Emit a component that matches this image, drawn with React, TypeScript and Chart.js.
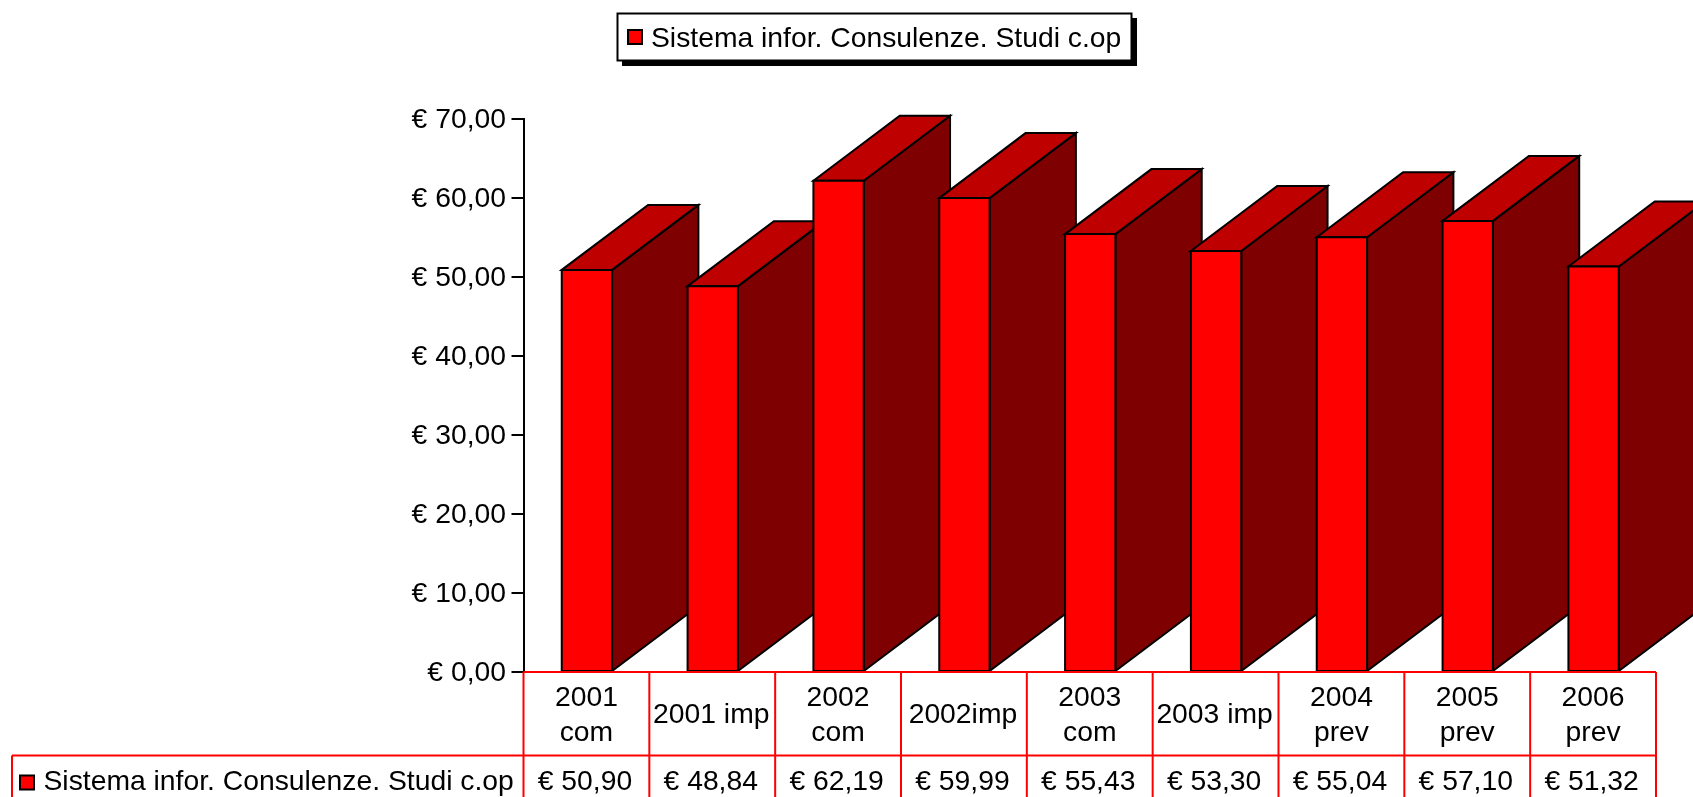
import React, { useEffect, useRef } from "react";
import { Chart, BarController, BarElement, CategoryScale, LinearScale } from "chart.js";

const seriesName = "Sistema infor. Consulenze. Studi c.op";
const categories = [
  ["2001", "com"],
  ["2001 imp"],
  ["2002", "com"],
  ["2002imp"],
  ["2003", "com"],
  ["2003 imp"],
  ["2004", "prev"],
  ["2005", "prev"],
  ["2006", "prev"],
];
const values = [50.9, 48.84, 62.19, 59.99, 55.43, 53.3, 55.04, 57.1, 51.32];
const yMin = 0;
const yMax = 70;
const yStep = 10;

const FONT_SIZE = 28.3;
const FONT = FONT_SIZE + 'px "Liberation Sans"';
const DEPTH_X = 86.3;
const DEPTH_Y = 65;
const FRONT = "#ff0000";
const TOP = "#bf0000";
const SIDE = "#7f0000";
const RED_LINE = "#ff0000";

const euro = (v: number) => "€ " + v.toFixed(2).replace(".", ",");

class Box3DElement extends BarElement {
  static id = "box3d";
  draw(ctx: CanvasRenderingContext2D) {
    const { x, y, base, width } = this as any;
    const l = x - width / 2 + 0.5;
    const r = x + width / 2 + 0.5;
    ctx.save();
    ctx.lineWidth = 2;
    ctx.lineJoin = "miter";
    ctx.strokeStyle = "#000";
    ctx.fillStyle = SIDE;
    ctx.beginPath();
    ctx.moveTo(r, y);
    ctx.lineTo(r + DEPTH_X, y - DEPTH_Y);
    ctx.lineTo(r + DEPTH_X, base - DEPTH_Y);
    ctx.lineTo(r, base);
    ctx.closePath();
    ctx.fill();
    ctx.stroke();
    ctx.fillStyle = TOP;
    ctx.beginPath();
    ctx.moveTo(l, y);
    ctx.lineTo(l + DEPTH_X, y - DEPTH_Y);
    ctx.lineTo(r + DEPTH_X, y - DEPTH_Y);
    ctx.lineTo(r, y);
    ctx.closePath();
    ctx.fill();
    ctx.stroke();
    ctx.fillStyle = FRONT;
    ctx.beginPath();
    ctx.rect(l, y, r - l, base - y);
    ctx.fill();
    ctx.stroke();
    ctx.restore();
  }
}

class Box3DController extends BarController {
  static id = "box3d";
  static defaults = { ...(BarController as any).defaults, dataElementType: "box3d" };
}

Chart.register(Box3DController, Box3DElement, CategoryScale, LinearScale);

function swatch(ctx: CanvasRenderingContext2D, x: number, y: number, s: number) {
  ctx.fillStyle = FRONT;
  ctx.strokeStyle = "#000";
  ctx.lineWidth = 2;
  ctx.fillRect(x, y, s, s);
  ctx.strokeRect(x, y, s, s);
}

const tablePlugin = {
  id: "dataTable",
  afterDraw(chart: any) {
    const ctx: CanvasRenderingContext2D = chart.ctx;
    const { left, right, bottom } = chart.chartArea;
    const xs = chart.scales.x;
    const n = categories.length;
    const col = (right - left) / n;
    const rowY = bottom + 83.5;
    const H = chart.height;
    ctx.save();
    ctx.strokeStyle = RED_LINE;
    ctx.lineWidth = 2;
    ctx.beginPath();
    ctx.moveTo(left, bottom);
    ctx.lineTo(right, bottom);
    ctx.moveTo(12, rowY);
    ctx.lineTo(right, rowY);
    ctx.moveTo(12, rowY);
    ctx.lineTo(12, H);
    for (let i = 0; i <= n; i++) {
      ctx.moveTo(left + i * col, bottom);
      ctx.lineTo(left + i * col, H);
    }
    ctx.stroke();
    ctx.fillStyle = "#000";
    ctx.font = FONT;
    ctx.textAlign = "center";
    ctx.textBaseline = "alphabetic";
    categories.forEach((lines, i) => {
      const cx = xs.getPixelForValue(i);
      if (lines.length === 2) {
        ctx.fillText(lines[0], cx, bottom + 33.5);
        ctx.fillText(lines[1], cx, bottom + 69);
      } else {
        ctx.fillText(lines[0], cx - 1, bottom + 51);
      }
      ctx.fillText(euro(values[i]), cx - 1.5, rowY + 34);
    });
    ctx.textAlign = "left";
    ctx.fillText(chart.data.datasets[0].label, 43.5, rowY + 34);
    swatch(ctx, 20, rowY + 20, 14);
    ctx.restore();
  },
};

const legendPlugin = {
  id: "boxLegend",
  afterDraw(chart: any) {
    const ctx: CanvasRenderingContext2D = chart.ctx;
    ctx.save();
    ctx.fillStyle = "#000";
    ctx.fillRect(622, 18, 515, 48);
    ctx.fillStyle = "#fff";
    ctx.fillRect(617.5, 13.5, 514, 47);
    ctx.strokeStyle = "#000";
    ctx.lineWidth = 2;
    ctx.strokeRect(617.5, 13.5, 514, 47);
    swatch(ctx, 628, 30, 14);
    ctx.fillStyle = "#000";
    ctx.font = FONT;
    ctx.textBaseline = "alphabetic";
    ctx.fillText(chart.data.datasets[0].label, 651, 46.5);
    ctx.restore();
  },
};

export default function App() {
  const ref = useRef<HTMLCanvasElement>(null);
  useEffect(() => {
    const chart = new Chart(ref.current as HTMLCanvasElement, {
      type: "box3d" as any,
      data: {
        labels: categories.map((c) => c.join(" ")),
        datasets: [
          {
            label: seriesName,
            data: values,
            backgroundColor: FRONT,
            barPercentage: 0.4,
            categoryPercentage: 1,
            clip: false,
          } as any,
        ],
      },
      plugins: [tablePlugin, legendPlugin],
      options: {
        animation: false,
        responsive: false,
        devicePixelRatio: 1,
        layout: { padding: { top: 119, right: 37, bottom: 0, left: 0 } },
        plugins: { legend: { display: false }, title: { display: false }, tooltip: { enabled: false } },
        scales: {
          x: {
            type: "category",
            offset: true,
            grid: { display: false },
            border: { display: false },
            ticks: { display: false },
            afterFit: (s: any) => {
              s.height = 125;
            },
          },
          y: {
            type: "linear",
            min: yMin,
            max: yMax,
            ticks: {
              stepSize: yStep,
              color: "#000",
              padding: 5.5,
              labelOffset: 1,
              font: { family: "Liberation Sans", size: FONT_SIZE },
              callback: (v: any) => euro(Number(v)),
            },
            grid: { drawOnChartArea: false, drawTicks: true, tickLength: 12, color: "#000", lineWidth: 2 },
            border: { display: true, color: "#000", width: 2 },
            afterFit: (s: any) => {
              s.width = 523.5;
            },
          },
        },
      } as any,
    });
    return () => chart.destroy();
  }, []);
  return (
    <div style={{ position: "fixed", left: 0, top: 0, width: 1693, height: 797, background: "#fff" }}>
      <canvas ref={ref} width={1693} height={797} style={{ display: "block" }} />
    </div>
  );
}
